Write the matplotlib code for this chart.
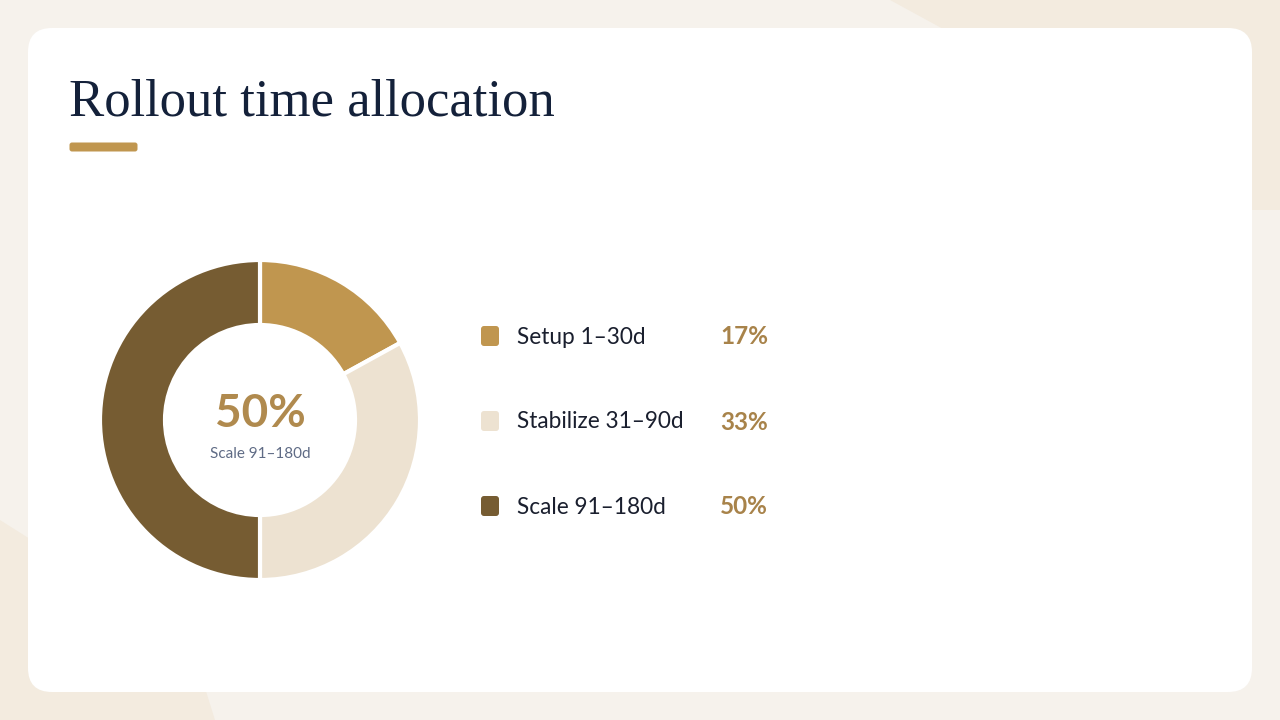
import matplotlib.pyplot as plt
from matplotlib.patches import FancyBboxPatch, Polygon
import numpy as np

# data
labels = ['Setup 1–30d', 'Stabilize 31–90d', 'Scale 91–180d']
shares = [17, 33, 50]
colors = ['#C0964F', '#EDE2D1', '#765C32']
center_value = '50%'
center_label = 'Scale 91–180d'
title = 'Rollout time allocation'

fig = plt.figure(figsize=(12.8, 7.2), dpi=100)
fig.patch.set_facecolor('#F6F2EC')

# background / card in pixel coordinates
bg = fig.add_axes([0, 0, 1, 1])
bg.set_xlim(0, 1280)
bg.set_ylim(720, 0)
bg.axis('off')
bg.add_patch(Polygon([[0, 520], [0, 720], [215, 720], [190, 640]], closed=True,
                     facecolor='#F3EBDF', edgecolor='none'))
bg.add_patch(Polygon([[890, 0], [1280, 0], [1280, 210], [1120, 210], [1000, 60]], closed=True,
                     facecolor='#F3EBDF', edgecolor='none'))
bg.add_patch(FancyBboxPatch((28 + 24, 28 + 24), 1224 - 48, 664 - 48,
                            boxstyle='round,pad=24', facecolor='white', edgecolor='none'))

bg.text(69, 115, title, fontsize=38, family='Liberation Serif', color='#14213A', va='baseline')
bg.add_patch(FancyBboxPatch((72, 145), 63, 4, boxstyle='round,pad=2.5',
                            facecolor='#C0964F', edgecolor='none'))

# legend rows
row_y = [336, 421, 506]
for lab, val, col, y in zip(labels, shares, colors, row_y):
    bg.add_patch(FancyBboxPatch((484, y - 7), 12, 14, boxstyle='round,pad=3',
                                facecolor=col, edgecolor='none'))
    bg.text(517, y + 1, lab, fontsize=16.3, family='Lato', color='#1A1F2E', va='center')
    bg.text(720, y + 1, f'{val}%', fontsize=17.5, family='Lato', fontweight='bold',
            color='#A8834A', va='center')

# donut
ax = fig.add_axes([100 / 1280, (720 - 580) / 720, 320 / 1280, 320 / 720])
ax.pie(shares, colors=colors, startangle=90, counterclock=False, radius=1,
       wedgeprops=dict(width=65 / 160, edgecolor='white', linewidth=3))
ax.set_xlim(-1, 1)
ax.set_ylim(-1, 1)
ax.set_aspect('equal')
ax.text(0, 0.035, center_value, ha='center', va='center', fontsize=33, family='Lato',
        fontweight='bold', color='#B08A4E')
ax.text(0, -0.215, center_label, ha='center', va='center', fontsize=11, family='Lato',
        color='#5F6B85')

fig.savefig('out.png', dpi=100, facecolor=fig.get_facecolor())
